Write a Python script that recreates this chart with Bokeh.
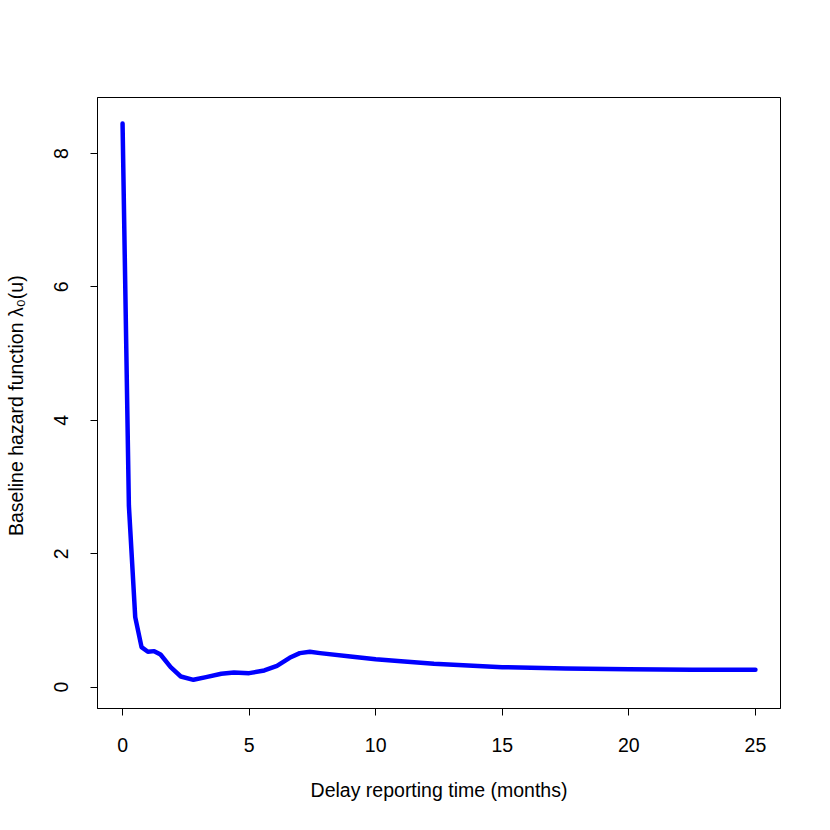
from bokeh.plotting import figure
from bokeh.models import Range1d, FixedTicker
from bokeh.embed import file_html
from bokeh.resources import INLINE

# Data
delay_months = [0, 0.25, 0.5, 0.75, 1.0, 1.25, 1.5, 1.9, 2.3, 2.8, 3.3, 3.9,
                4.4, 5.0, 5.6, 6.1, 6.6, 7.0, 7.4, 7.8, 9.0, 10.0, 11.0,
                12.3, 15.0, 17.5, 20.0, 22.5, 25.0]
hazard = [8.45, 2.72, 1.05, 0.60, 0.53, 0.54, 0.49, 0.30, 0.16, 0.11, 0.15,
          0.20, 0.22, 0.21, 0.25, 0.32, 0.44, 0.51, 0.53, 0.51, 0.46, 0.42,
          0.39, 0.35, 0.30, 0.28, 0.27, 0.26, 0.26]
x_ticks = [0, 5, 10, 15, 20, 25]
y_ticks = [0, 2, 4, 6, 8]

FONT = "Liberation Sans"

p = figure(width=828, height=828, output_backend="svg", toolbar_location=None,
           x_range=Range1d(-0.99, 25.99), y_range=Range1d(-0.32, 8.84),
           min_border_left=97, min_border_right=48, min_border_top=97,
           min_border_bottom=120)

p.line(delay_months, hazard, line_color="#0000ff", line_width=4.5,
       line_cap="round", line_join="round")

p.xgrid.visible = False
p.ygrid.visible = False
p.outline_line_color = "black"
p.outline_line_width = 1
p.background_fill_color = "white"
p.border_fill_color = "white"

p.xaxis.ticker = FixedTicker(ticks=x_ticks)
p.yaxis.ticker = FixedTicker(ticks=y_ticks)
p.xaxis.axis_label = "Delay reporting time (months)"
p.yaxis.axis_label = "Baseline hazard function  λ₀(u)"

for ax in (p.xaxis[0], p.yaxis[0]):
    ax.axis_line_color = "black"
    ax.major_tick_line_color = "black"
    ax.major_tick_out = 7
    ax.major_tick_in = 0
    ax.minor_tick_line_color = None
    ax.major_label_text_font = FONT
    ax.major_label_text_font_size = "19.5px"
    ax.major_label_text_color = "black"
    ax.axis_label_text_font = FONT
    ax.axis_label_text_font_size = "19.5px"
    ax.axis_label_text_font_style = "normal"
    ax.axis_label_text_color = "black"

p.xaxis.major_label_standoff = 22
p.xaxis.axis_label_standoff = 24
p.yaxis.major_label_orientation = "vertical"
p.yaxis.major_label_standoff = 22
p.yaxis.axis_label_standoff = 25

open("out.html", "w").write(file_html(p, INLINE))
